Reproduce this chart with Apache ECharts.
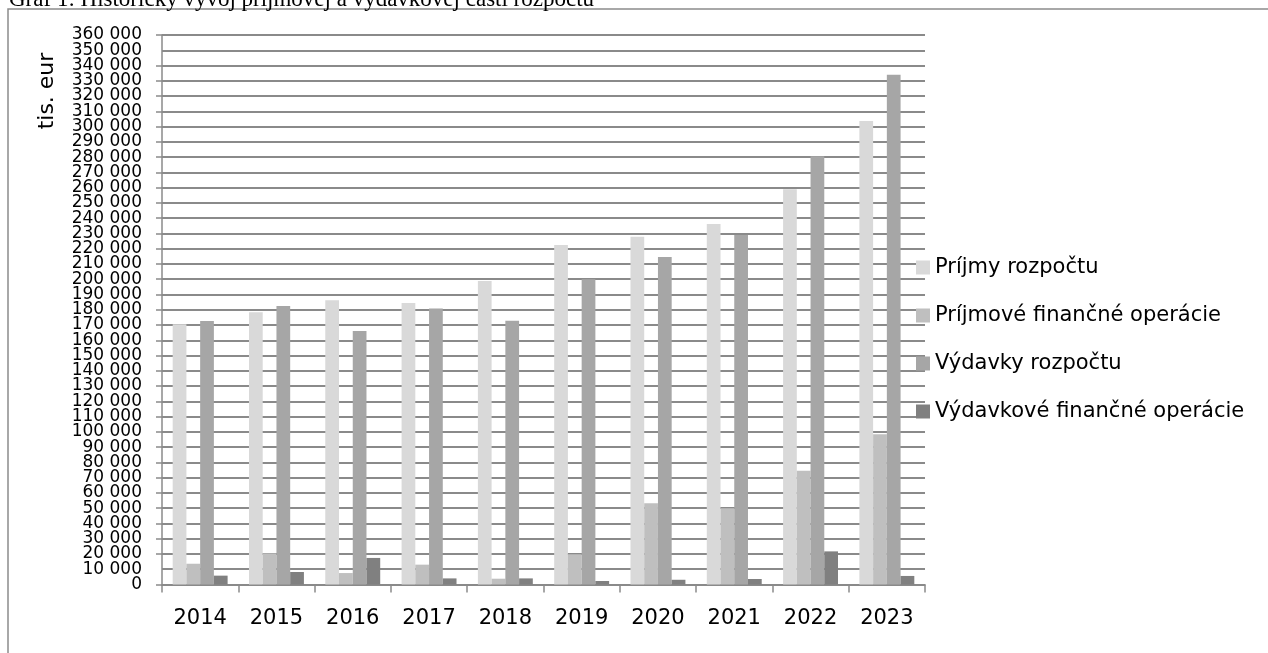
<!DOCTYPE html>
<html>
<head>
<meta charset="utf-8">
<script src="https://cdn.jsdelivr.net/npm/echarts@6/dist/echarts.min.js"></script>
<style>
  html, body { margin: 0; padding: 0; background: #fff; }
  #chart { width: 1268px; height: 653px; }
</style>
</head>
<body>
<div id="chart"></div>
<script>
// roky a hodnoty v tis. eur
const years = ['2014', '2015', '2016', '2017', '2018', '2019', '2020', '2021', '2022', '2023']
const prijmyRozpoctu = [170500, 178300, 186200, 184400, 198800, 222400, 227900, 236200, 258900, 303600]
const prijmoveFinOperacie = [13600, 20400, 7500, 13000, 3800, 19800, 53200, 49900, 74600, 98400]
const vydavkyRozpoctu = [172600, 182400, 166100, 180900, 172800, 199900, 214500, 229000, 280500, 334000]
const vydavkoveFinOperacie = [5800, 8200, 17400, 4000, 4000, 2300, 3100, 3600, 21700, 5600]
const seriesNames = ['Príjmy rozpočtu', 'Príjmové finančné operácie', 'Výdavky rozpočtu', 'Výdavkové finančné operácie']
const seriesColors = ['#d9d9d9', '#bfbfbf', '#a6a6a6', '#808080']

const font = 'DejaVu Sans'
const gridColor = '#8a8a8a'
const yMax = 360000
const yStep = 10000

function thousands(v) {
  return String(v).replace(/\B(?=(\d{3})+(?!\d))/g, ' ')
}

const chart = echarts.init(document.getElementById('chart'), null, { renderer: 'canvas' })

const seriesData = [prijmyRozpoctu, prijmoveFinOperacie, vydavkyRozpoctu, vydavkoveFinOperacie]

const yLabelStyle = {
  fontFamily: font,
  fontSize: 17,
  color: '#000',
  margin: 20
}

const option = {
  animation: false,
  backgroundColor: '#ffffff',
  color: seriesColors,
  grid: {
    left: 162,
    right: 343,
    top: 35,
    bottom: 68.5
  },
  graphic: [
    {
      type: 'rect',
      shape: { x: 8, y: 9, width: 1400, height: 800 },
      style: { fill: 'none', stroke: '#8c8c8c', lineWidth: 1.5 },
      silent: true
    },
    {
      type: 'text',
      x: 9,
      y: 11,
      style: {
        text: 'Graf 1: Historický vývoj príjmovej a výdavkovej časti rozpočtu',
        font: '23px "Liberation Serif"',
        fill: '#000',
        verticalAlign: 'bottom'
      },
      silent: true
    },
    {
      type: 'text',
      x: 47,
      y: 91,
      rotation: Math.PI / 2,
      style: {
        text: 'tis. eur',
        font: '22px "DejaVu Sans"',
        fill: '#000',
        align: 'center',
        verticalAlign: 'middle'
      },
      silent: true
    }
  ],
  legend: {
    orient: 'vertical',
    left: 911,
    top: 252,
    itemWidth: 14,
    itemHeight: 14,
    itemGap: 27,
    icon: 'rect',
    textStyle: {
      fontFamily: font,
      fontSize: 21,
      color: '#000'
    },
    data: seriesNames
  },
  xAxis: {
    type: 'category',
    data: years,
    axisLine: { show: true, lineStyle: { color: gridColor, width: 1.5 } },
    axisTick: { show: true, length: 8, lineStyle: { color: gridColor, width: 1.5 } },
    axisLabel: {
      fontFamily: font,
      fontSize: 21,
      color: '#000',
      margin: 24
    },
    splitLine: { show: false }
  },
  yAxis: [
    {
      type: 'value',
      min: 0,
      max: yMax,
      interval: yStep,
      axisLine: { show: true, lineStyle: { color: gridColor, width: 1.5 } },
      axisTick: { show: true, inside: false, length: 6, lineStyle: { color: gridColor, width: 1.5 } },
      axisLabel: Object.assign({}, yLabelStyle, {
        showMinLabel: true,
        showMaxLabel: true,
        formatter: thousands
      }),
      splitLine: { show: true, lineStyle: { color: gridColor, width: 2 } }
    },
    {
      // doplnkova os: popisy, ktore prva os skryje pri okrajoch
      type: 'value',
      position: 'left',
      min: 0,
      max: yMax,
      interval: yStep,
      axisLine: { show: false },
      axisTick: { show: false },
      splitLine: { show: false },
      axisLabel: Object.assign({}, yLabelStyle, {
        showMinLabel: false,
        showMaxLabel: false,
        formatter: v => (v === yStep || v === yMax - yStep) ? thousands(v) : ''
      })
    }
  ],
  series: seriesNames.map((name, i) => ({
    name: name,
    type: 'bar',
    data: seriesData[i],
    barGap: '0%',
    barCategoryGap: '28%',
    itemStyle: { color: seriesColors[i] }
  }))
}

chart.setOption(option)
</script>
</body>
</html>
